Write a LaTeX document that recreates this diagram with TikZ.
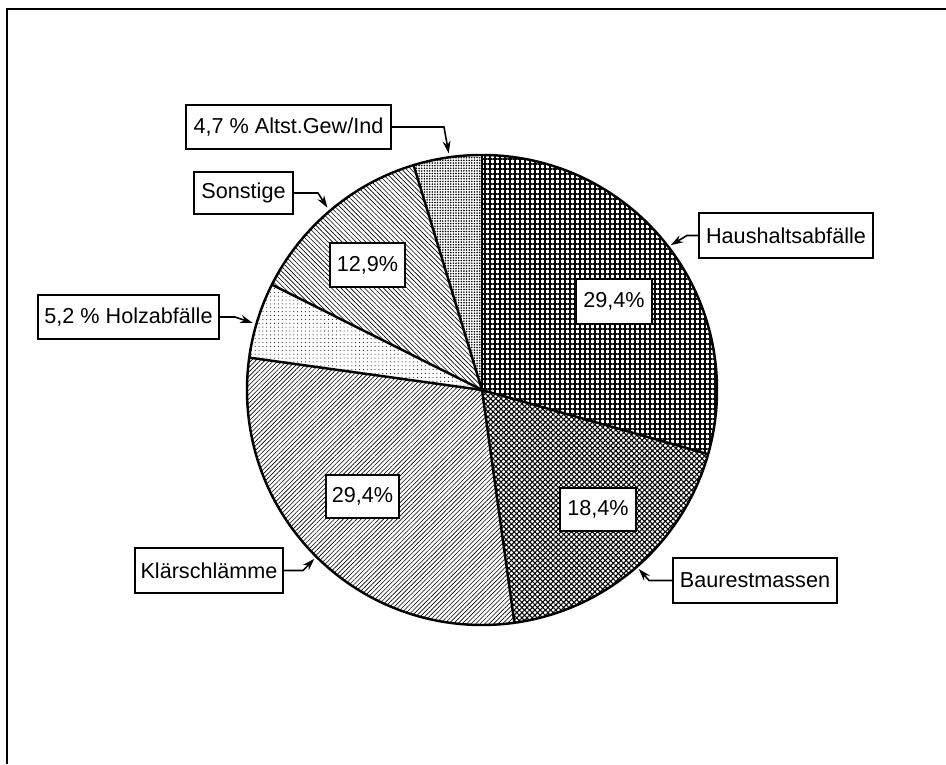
\documentclass[tikz,border=0pt]{standalone}
\usepackage{fontspec}
\setmainfont{Liberation Sans}
\usetikzlibrary{patterns.meta,arrows.meta}
\begin{document}
\begin{tikzpicture}[
  kasten/.style={draw,line width=1.1pt,fill=white,inner sep=0pt,minimum height=0.88cm,font=\fontsize{12.3}{14}\selectfont},
  pfeil/.style={line width=0.9pt,-{Stealth[length=7pt,width=4.5pt]}}]
\useasboundingbox (0,0) rectangle (18.92,15.28);
% Rahmen
\draw[line width=1pt] (0.14,0) -- (0.14,15.1) -- (18.92,15.1);
% Kreis
\begin{scope}[shift={(9.64,7.48)}]
\fill[pattern={Hatch[angle=0,distance=2.845pt,line width=0.75pt]}] (0,0) -- (90:4.7) arc (90:-15.84:4.7) -- cycle;
\fill[pattern={Hatch[angle=45,distance=2.1pt,line width=0.6pt]}] (0,0) -- (-15.84:4.7) arc (-15.84:-82.08:4.7) -- cycle;
\fill[pattern={Lines[angle=45,distance=1.8pt,line width=0.35pt]}] (0,0) -- (-82.08:4.7) arc (-82.08:-187.92:4.7) -- cycle;
\fill[pattern={Dots[radius=0.3pt,distance=2.2pt]}] (0,0) -- (-187.92:4.7) arc (-187.92:-206.64:4.7) -- cycle;
\fill[pattern={Lines[angle=-45,distance=1.9pt,line width=0.35pt]}] (0,0) -- (-206.64:4.7) arc (-206.64:-253.08:4.7) -- cycle;
\fill[pattern={Dots[radius=0.5pt,distance=1.5pt]}] (0,0) -- (-253.08:4.7) arc (-253.08:-270:4.7) -- cycle;
\draw[line width=1.4pt] (0,0) -- (90:4.7);
\draw[line width=1.4pt] (0,0) -- (-15.84:4.7);
\draw[line width=1.4pt] (0,0) -- (-82.08:4.7);
\draw[line width=1.4pt] (0,0) -- (-187.92:4.7);
\draw[line width=1.4pt] (0,0) -- (-206.64:4.7);
\draw[line width=1.4pt] (0,0) -- (-253.08:4.7);
\draw[line width=1.4pt] (0,0) circle (4.7);
\coordinate (altst-tip) at (98:4.78);
\coordinate (sonst-tip) at (130.3:4.78);
\coordinate (haus-tip) at (37.5:4.76);
\coordinate (holz-tip) at (163.7:4.78);
\coordinate (klaer-tip) at (225.2:4.76);
\coordinate (baur-tip) at (-48.8:4.76);
\end{scope}
% Beschriftung
\node[kasten,minimum width=4.1cm] (altst) at (5.77,12.74) {4,7 \% Altst.Gew/Ind};
\node[kasten,minimum width=1.98cm,minimum height=0.84cm] (sonst) at (4.87,11.42) {Sonstige};
\node[kasten,minimum width=3.48cm,minimum height=0.9cm] (haus) at (15.72,10.57) {Haushaltsabfälle};
\node[kasten,minimum width=3.62cm] (holz) at (2.57,8.94) {5,2 \% Holzabfälle};
\node[kasten,minimum width=2.96cm,minimum height=0.9cm] (klaer) at (4.18,3.87) {Klärschlämme};
\node[kasten,minimum width=3.28cm,minimum height=0.9cm] (baur) at (15.1,3.67) {Baurestmassen};
\node[kasten,minimum width=1.5cm] (p129) at (7.35,9.98) {12,9\%};
\node[kasten,minimum width=1.52cm,minimum height=0.9cm] (p294a) at (12.28,9.25) {29,4\%};
\node[kasten,minimum width=1.52cm,minimum height=0.86cm] (p184) at (11.96,5.09) {18,4\%};
\node[kasten,minimum width=1.46cm,minimum height=0.86cm] (p294b) at (7.25,5.35) {29,4\%};
% Pfeile
\draw[pfeil] (altst.east) -- ++(1.04,0) -- (altst-tip);
\draw[pfeil] (sonst.east) -- ++(0.48,0) -- (sonst-tip);
\draw[pfeil] (haus.west) -- ++(-0.22,0) -- (haus-tip);
\draw[pfeil] (holz.east) -- ++(0.3,0) -- (holz-tip);
\draw[pfeil] (klaer.east) -- ++(0.38,0) -- (klaer-tip);
\draw[pfeil] (baur.west) -- ++(-0.46,0) -- (baur-tip);
\end{tikzpicture}
\end{document}
